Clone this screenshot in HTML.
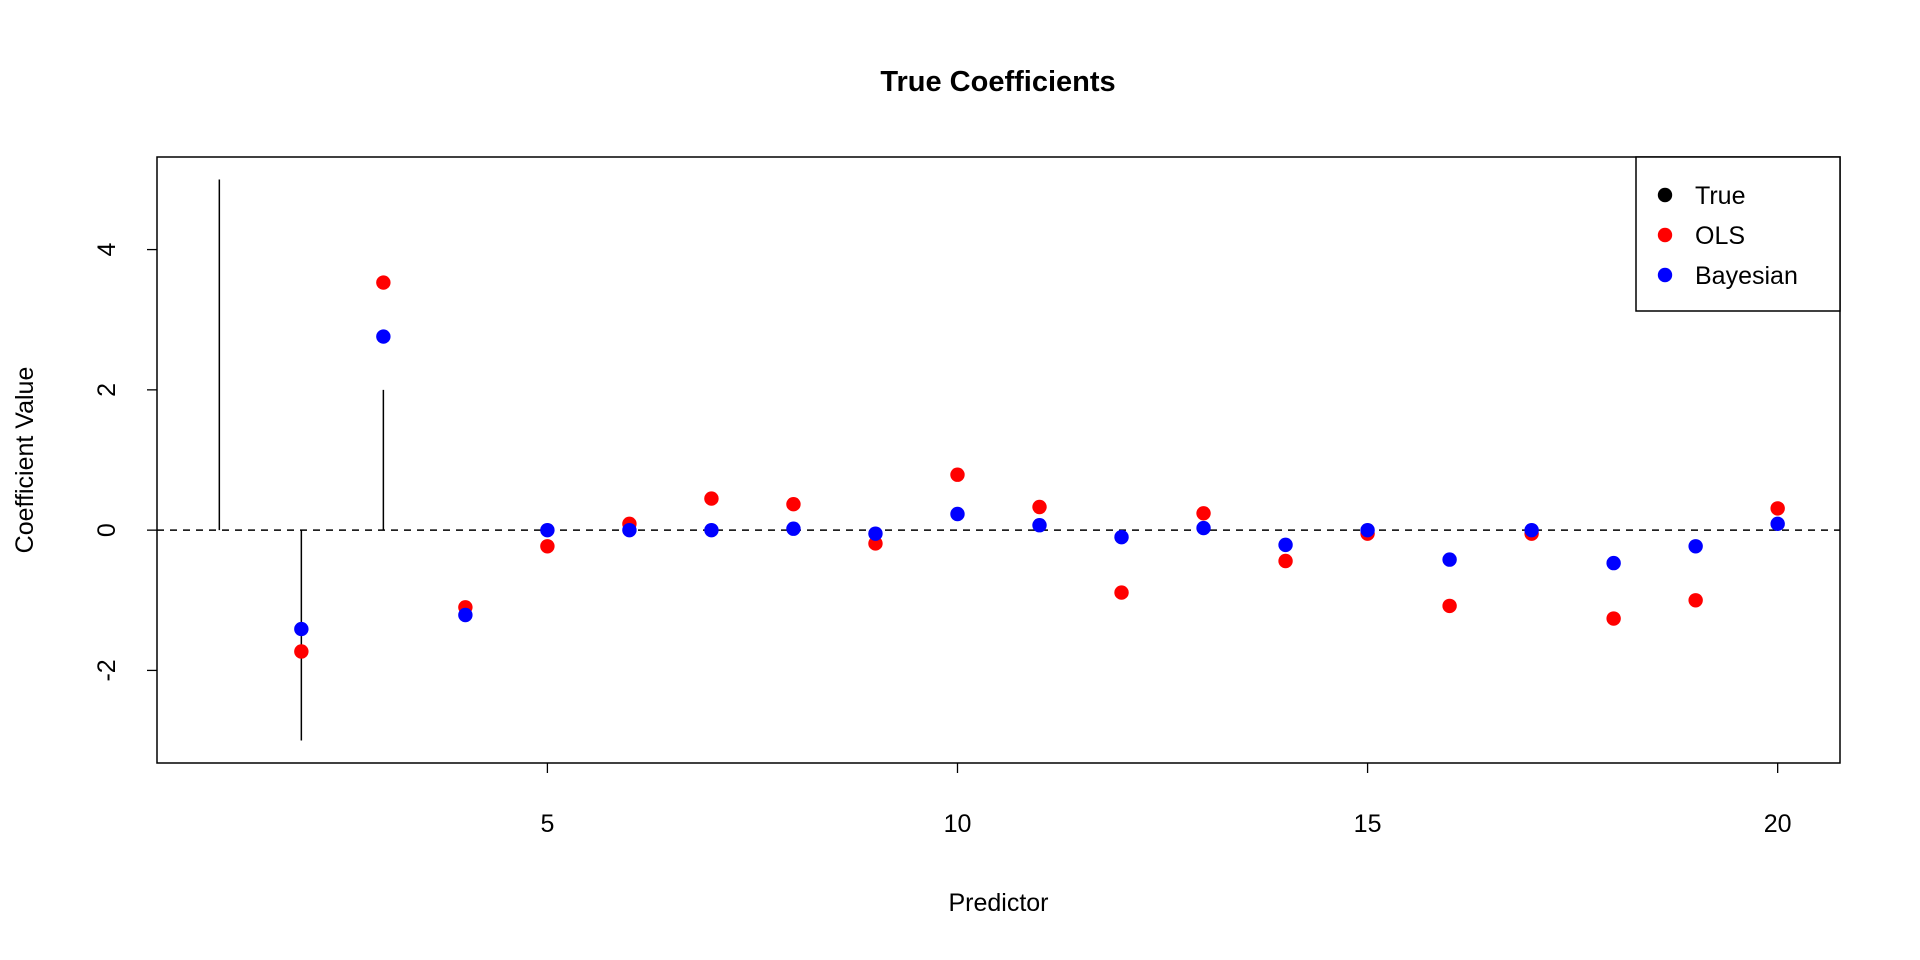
<!DOCTYPE html>
<html><head><meta charset="utf-8"><style>
html,body{margin:0;padding:0;background:#fff;}
svg{display:block;font-family:"Liberation Sans",Arial,sans-serif;}
</style></head><body>
<svg id="chart" width="1920" height="960" viewBox="0 0 1920 960">
<text x="998" y="91" text-anchor="middle" font-size="29" font-weight="bold">True Coefficients</text>
<g id="plot"></g>
</svg>
<script>
const predictors=[1,2,3,4,5,6,7,8,9,10,11,12,13,14,15,16,17,18,19,20];
const trueVals=[5,-3,2,0,0,0,0,0,0,0,0,0,0,0,0,0,0,0,0,0];
const olsX=[2,3,4,5,6,7,8,9,10,11,12,13,14,15,16,17,18,19,20];
const olsVals=[-1.73,3.53,-1.10,-0.23,0.09,0.45,0.37,-0.19,0.79,0.33,-0.89,0.24,-0.44,-0.05,-1.08,-0.05,-1.26,-1.0,0.31];
const bayesX=[2,3,4,5,6,7,8,9,10,11,12,13,14,15,16,17,18,19,20];
const bayesVals=[-1.41,2.76,-1.21,0,0,0,0.02,-0.05,0.23,0.07,-0.10,0.03,-0.21,0,-0.42,0,-0.47,-0.23,0.09];
const xTicks=[5,10,15,20];
const yTicks=[-2,0,2,4];
const legendLabels=["True","OLS","Bayesian"];
const legendColors=["#000","#f00","#00f"];

const L=157,R=1840,T=157,B=763;
const xmin=0.24,xmax=20.76,ymin=-3.32,ymax=5.32;
const sx=v=>L+(v-xmin)/(xmax-xmin)*(R-L);
const sy=v=>B-(v-ymin)/(ymax-ymin)*(B-T);
const g=document.getElementById('plot');
const NS='http://www.w3.org/2000/svg';
function mk(tag,attrs,parent){const e=document.createElementNS(NS,tag);for(const k in attrs)e.setAttribute(k,attrs[k]);(parent||g).appendChild(e);return e;}

let e=mk('rect',{x:L,y:T,width:R-L,height:B-T,fill:'none',stroke:'#000','stroke-width':1.5});



e=mk('line',{x1:L,x2:R,y1:sy(0),y2:sy(0),stroke:'#000','stroke-width':1.5,'stroke-dasharray':'7,6'});



xTicks.forEach(t=>{
  const x=sx(t);
  let l=mk('line',{x1:x,x2:x,y1:B,y2:B+10,stroke:'#000','stroke-width':1.3});
  
  
  let tx=mk('text',{x:x,y:832,'text-anchor':'middle','font-size':25});
  tx.textContent=t;
  
  
});
yTicks.forEach(t=>{
  const y=sy(t);
  let l=mk('line',{x1:L-10,x2:L,y1:y,y2:y,stroke:'#000','stroke-width':1.3});
  
  
  let tx=mk('text',{x:0,y:0,'text-anchor':'middle','font-size':25,transform:`translate(115,${y}) rotate(-90)`});
  tx.textContent=t;
  
  
});

let yt=mk('text',{x:0,y:0,'text-anchor':'middle','font-size':25,transform:`translate(33,${(T+B)/2}) rotate(-90)`});
yt.textContent='Coefficient Value';


let xt=mk('text',{x:(L+R)/2,y:911,'text-anchor':'middle','font-size':25});
xt.textContent='Predictor';



predictors.forEach((p,i)=>{
  const l=mk('line',{x1:sx(p),x2:sx(p),y1:sy(0),y2:sy(trueVals[i]),stroke:'#000','stroke-width':1.5});
  
  
});
olsX.forEach((p,i)=>{
  const c=mk('circle',{cx:sx(p),cy:sy(olsVals[i]),r:7.2,fill:'#f00'});
  
  
});
bayesX.forEach((p,i)=>{
  const c=mk('circle',{cx:sx(p),cy:sy(bayesVals[i]),r:7.2,fill:'#00f'});
  
  
});

const lg=mk('g',{});


let lr=mk('rect',{x:1636,y:T,width:R-1636,height:154,fill:'#fff',stroke:'#000','stroke-width':1.5},lg);


legendLabels.forEach((lab,i)=>{
  const y=195+i*40;
  const c=mk('circle',{cx:1665,cy:y,r:7.2,fill:legendColors[i]},lg);
  
  
  const t=mk('text',{x:1695,y:y+9,'font-size':25},lg);
  t.textContent=lab;
  
  
});
</script>
</body></html>
